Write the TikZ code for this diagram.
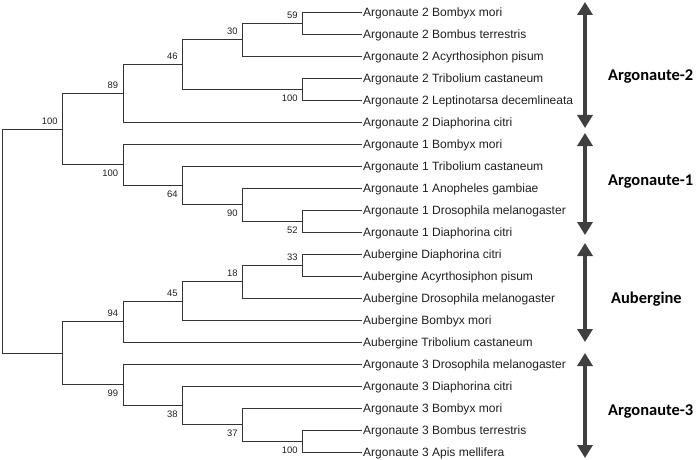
\documentclass[tikz,border=0pt]{standalone}
\usepackage{fontspec}
\setmainfont{Liberation Sans}
\newfontfamily\grpfont{Carlito}
\usetikzlibrary{arrows.meta}
\newlength\fitw
\settowidth\fitw{\fontsize{10}{12}\selectfont Argonaute 2 Leptinotarsa decemlineata}
\pgfmathsetmacro\leafsize{10*210/\fitw}
\pgfmathsetmacro\leafbase{0.358*\leafsize}
\settowidth\fitw{\fontsize{10}{12}\selectfont 100}
\pgfmathsetmacro\bssize{10*15.7/\fitw}
\settowidth\fitw{\grpfont\bfseries\fontsize{10}{12}\selectfont Argonaute-2}
\pgfmathsetmacro\grpsize{10*85/\fitw}
\pgfmathsetmacro\grpbase{0.322*\grpsize}
\begin{document}
\begin{tikzpicture}[x=1pt,y=-1pt,
  branch/.style={draw=black!80, line width=0.9pt},
  leaf/.style={anchor=base west, inner sep=0pt, font=\fontsize{\leafsize}{\leafsize}\selectfont, text=black!88},
  bsup/.style={anchor=south east, inner sep=0pt, font=\fontsize{\bssize}{\bssize}\selectfont, text=black!88},
  bsdn/.style={anchor=north east, inner sep=0pt, font=\fontsize{\bssize}{\bssize}\selectfont, text=black!88},
  grp/.style={anchor=base west, inner sep=0pt, font=\grpfont\bfseries\fontsize{\grpsize}{\grpsize}\selectfont, text=black},
  grparrow/.style={draw=black!75, line width=4.5pt, {Triangle[width=15pt,length=13pt]}-{Triangle[width=15pt,length=13pt]}}
]
\useasboundingbox (0,0) rectangle (697,460);

% leaf tips and labels
\foreach \k/\y/\t in {
  1/12.3/Argonaute 2 Bombyx mori,
  2/34.3/Argonaute 2 Bombus terrestris,
  3/56.3/Argonaute 2 Acyrthosiphon pisum,
  4/78.3/Argonaute 2 Tribolium castaneum,
  5/100.3/Argonaute 2 Leptinotarsa decemlineata,
  6/122.3/Argonaute 2 Diaphorina citri,
  7/144.3/Argonaute 1 Bombyx mori,
  8/166.3/Argonaute 1 Tribolium castaneum,
  9/188.3/Argonaute 1 Anopheles gambiae,
  10/210.3/Argonaute 1 Drosophila melanogaster,
  11/232.3/Argonaute 1 Diaphorina citri,
  12/254.3/Aubergine Diaphorina citri,
  13/276.3/Aubergine Acyrthosiphon pisum,
  14/298.3/Aubergine Drosophila melanogaster,
  15/320.3/Aubergine Bombyx mori,
  16/342.3/Aubergine Tribolium castaneum,
  17/364.3/Argonaute 3 Drosophila melanogaster,
  18/386.3/Argonaute 3 Diaphorina citri,
  19/408.3/Argonaute 3 Bombyx mori,
  20/430.3/Argonaute 3 Bombus terrestris,
  21/452.3/Argonaute 3 Apis mellifera}{
  \coordinate (t\k) at (362,\y);
  \node[leaf] (l\k) at (363,\y+\leafbase) {\t};
}

% internal nodes
\coordinate (root) at (2.7,241.2);
\coordinate (top)  at (62.7,129.15);
\coordinate (bot)  at (62.7,353.3);
\coordinate (n89)  at (123.3,93.4);
\coordinate (n46)  at (182.7,64.55);
\coordinate (n30)  at (242.7,39.8);
\coordinate (n59)  at (302.7,23.3);
\coordinate (n100b) at (302.7,89.3);
\coordinate (n100c) at (123.3,164.9);
\coordinate (n64)  at (182.7,185.55);
\coordinate (n90)  at (242.7,204.8);
\coordinate (n52)  at (302.7,221.3);
\coordinate (n94)  at (123.3,321.7);
\coordinate (n45)  at (182.7,301.05);
\coordinate (n18)  at (242.7,281.8);
\coordinate (n33)  at (302.7,265.3);
\coordinate (n99)  at (123.3,384.9);
\coordinate (n38)  at (182.7,405.55);
\coordinate (n37)  at (242.7,424.8);
\coordinate (n100d) at (302.7,441.3);

% branches
\draw[branch] (root) |- (top);
\draw[branch] (root) |- (bot);
\draw[branch] (top) |- (n89);
\draw[branch] (top) |- (n100c);
\draw[branch] (n89) |- (n46);
\draw[branch] (n89) |- (t6);
\draw[branch] (n46) |- (n30);
\draw[branch] (n46) |- (n100b);
\draw[branch] (n30) |- (n59);
\draw[branch] (n30) |- (t3);
\draw[branch] (n59) |- (t1);
\draw[branch] (n59) |- (t2);
\draw[branch] (n100b) |- (t4);
\draw[branch] (n100b) |- (t5);
\draw[branch] (n100c) |- (t7);
\draw[branch] (n100c) |- (n64);
\draw[branch] (n64) |- (t8);
\draw[branch] (n64) |- (n90);
\draw[branch] (n90) |- (t9);
\draw[branch] (n90) |- (n52);
\draw[branch] (n52) |- (t10);
\draw[branch] (n52) |- (t11);
\draw[branch] (bot) |- (n94);
\draw[branch] (bot) |- (n99);
\draw[branch] (n94) |- (n45);
\draw[branch] (n94) |- (t16);
\draw[branch] (n45) |- (n18);
\draw[branch] (n45) |- (t15);
\draw[branch] (n18) |- (n33);
\draw[branch] (n18) |- (t14);
\draw[branch] (n33) |- (t12);
\draw[branch] (n33) |- (t13);
\draw[branch] (n99) |- (t17);
\draw[branch] (n99) |- (n38);
\draw[branch] (n38) |- (t18);
\draw[branch] (n38) |- (n37);
\draw[branch] (n37) |- (t19);
\draw[branch] (n37) |- (n100d);
\draw[branch] (n100d) |- (t20);
\draw[branch] (n100d) |- (t21);

% bootstrap values
\node[bsup] (btop) at ([shift={(-5,-4.7)}]top) {100};
\node[bsup] (b89)  at ([shift={(-5,-4.7)}]n89) {89};
\node[bsup] (b46)  at ([shift={(-5,-4.7)}]n46) {46};
\node[bsup] (b30)  at ([shift={(-5,-4.7)}]n30) {30};
\node[bsup] (b59)  at ([shift={(-5,-4.7)}]n59) {59};
\node[bsdn] (b100b) at ([shift={(-5,5.2)}]n100b) {100};
\node[bsdn] (b100c) at ([shift={(-5,5.2)}]n100c) {100};
\node[bsdn] (b64)  at ([shift={(-5,5.2)}]n64) {64};
\node[bsdn] (b90)  at ([shift={(-5,5.2)}]n90) {90};
\node[bsdn] (b52)  at ([shift={(-5,5.2)}]n52) {52};
\node[bsup] (b94)  at ([shift={(-5,-4.7)}]n94) {94};
\node[bsup] (b45)  at ([shift={(-5,-4.7)}]n45) {45};
\node[bsup] (b18)  at ([shift={(-5,-4.7)}]n18) {18};
\node[bsup] (b33)  at ([shift={(-5,-4.7)}]n33) {33};
\node[bsdn] (b99)  at ([shift={(-5,5.2)}]n99) {99};
\node[bsdn] (b38)  at ([shift={(-5,5.2)}]n38) {38};
\node[bsdn] (b37)  at ([shift={(-5,5.2)}]n37) {37};
\node[bsdn] (b100d) at ([shift={(-5,5.2)}]n100d) {100};

% group arrows
\coordinate (a1t) at (585,2);   \coordinate (a1b) at (585,128);
\coordinate (a2t) at (585,133); \coordinate (a2b) at (585,235);
\coordinate (a3t) at (585,243); \coordinate (a3b) at (585,342);
\coordinate (a4t) at (585,353); \coordinate (a4b) at (585,458);
\draw[grparrow] (a1t) -- (a1b);
\draw[grparrow] (a2t) -- (a2b);
\draw[grparrow] (a3t) -- (a3b);
\draw[grparrow] (a4t) -- (a4b);

% group labels
\node[grp] (g2) at (608,75+\grpbase) {Argonaute-2};
\node[grp] (g1) at (608,180+\grpbase) {Argonaute-1};
\node[grp] (gau) at (611,298+\grpbase) {Aubergine};
\node[grp] (g3) at (608,410+\grpbase) {Argonaute-3};
\end{tikzpicture}
\end{document}
